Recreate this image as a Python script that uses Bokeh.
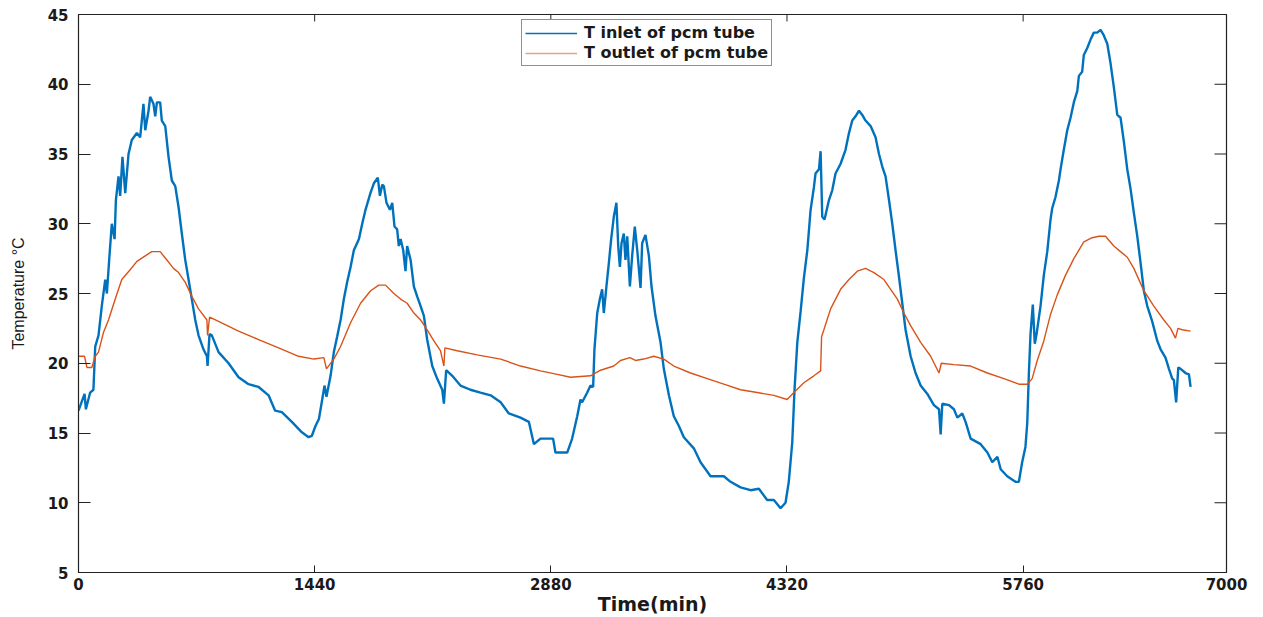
from bokeh.plotting import figure
from bokeh.models import Range1d, FixedTicker, Legend, LegendItem
from bokeh.embed import file_html
from bokeh.resources import INLINE

# ---- data ----
inlet_t = [0, 37, 45, 71, 91, 102, 122, 142, 163, 173, 187, 203, 220, 228, 244, 254, 268, 285, 305, 325,
           356, 376, 396, 407, 427, 437, 457, 468, 478, 498, 508, 529, 549, 569, 590, 610, 630, 651, 671, 691,
           712, 732, 762, 783, 787, 799, 813, 854, 915, 976, 1037, 1098, 1159, 1199, 1240, 1301, 1362, 1403, 1423, 1445,
           1466, 1486, 1500, 1512, 1537, 1557, 1577, 1598, 1618, 1638, 1659, 1679, 1710, 1730, 1750, 1780, 1801, 1825, 1838, 1852,
           1862, 1878, 1899, 1913, 1927, 1943, 1953, 1964, 1980, 1994, 2004, 2025, 2045, 2065, 2086, 2106, 2126, 2157, 2187, 2218,
           2228, 2242, 2279, 2329, 2390, 2451, 2513, 2574, 2624, 2695, 2746, 2777, 2817, 2894, 2908, 2980, 3010, 3041, 3061, 3071,
           3102, 3122, 3138, 3146, 3163, 3179, 3193, 3203, 3219, 3234, 3248, 3264, 3280, 3291, 3301, 3311, 3325, 3335, 3346, 3362,
           3376, 3392, 3407, 3427, 3437, 3457, 3478, 3494, 3518, 3549, 3569, 3600, 3630, 3661, 3691, 3752, 3793, 3854, 3935, 3976,
           4037, 4098, 4149, 4199, 4240, 4281, 4311, 4331, 4352, 4366, 4383, 4403, 4423, 4444, 4464, 4484, 4494, 4515, 4525, 4535,
           4549, 4576, 4596, 4616, 4647, 4677, 4698, 4718, 4738, 4759, 4779, 4799, 4830, 4860, 4881, 4901, 4921, 4942, 4962, 4982,
           5003, 5023, 5043, 5074, 5104, 5135, 5176, 5216, 5247, 5257, 5267, 5308, 5338, 5359, 5389, 5409, 5440, 5501, 5542, 5572,
           5603, 5623, 5663, 5713, 5734, 5754, 5774, 5785, 5795, 5805, 5819, 5831, 5842, 5866, 5886, 5907, 5927, 5937, 5957, 5978,
           5988, 6008, 6029, 6049, 6069, 6090, 6100, 6120, 6130, 6151, 6171, 6191, 6212, 6232, 6252, 6273, 6293, 6313, 6334, 6354,
           6374, 6395, 6415, 6435, 6456, 6476, 6496, 6517, 6547, 6578, 6598, 6628, 6649, 6669, 6679, 6693, 6706, 6720, 6750, 6771,
           6781]
inlet_T = [16.6, 17.8, 16.7, 17.9, 18.1, 21.2, 22.0, 24.1, 26.0, 25.0, 27.4, 30.0, 28.9, 31.7, 33.4, 32.0, 34.8, 32.2, 35.0, 36.0,
           36.5, 36.2, 38.6, 36.7, 38.1, 39.1, 38.6, 37.7, 38.7, 38.7, 37.4, 37.0, 34.8, 33.1, 32.7, 31.2, 29.3, 27.4, 26.0, 24.6,
           23.1, 22.0, 21.0, 20.5, 19.8, 22.1, 22.0, 20.8, 20.0, 19.0, 18.5, 18.3, 17.7, 16.6, 16.5, 15.8, 15.05, 14.7, 14.8, 15.5,
           16.0, 17.4, 18.4, 17.6, 19.1, 20.8, 21.9, 23.1, 24.6, 25.8, 26.9, 28.1, 28.9, 30.0, 31.0, 32.2, 32.9, 33.3, 32.0, 32.8,
           32.7, 31.5, 31.0, 31.5, 29.8, 29.6, 28.4, 28.9, 28.1, 26.6, 28.4, 27.4, 25.5, 24.8, 24.1, 23.4, 21.7, 19.8, 18.9, 18.1,
           17.1, 19.5, 19.1, 18.4, 18.1, 17.9, 17.7, 17.2, 16.4, 16.1, 15.8, 14.2, 14.6, 14.6, 13.6, 13.6, 14.6, 16.2, 17.4, 17.2,
           17.9, 18.4, 18.3, 21.0, 23.6, 24.6, 25.3, 23.6, 25.5, 27.2, 28.9, 30.5, 31.5, 28.4, 26.9, 28.6, 29.3, 27.4, 29.1, 25.5,
           27.7, 29.8, 28.1, 25.4, 28.6, 29.2, 27.7, 25.5, 23.4, 21.5, 19.6, 17.7, 16.2, 15.5, 14.7, 13.9, 12.9, 11.9, 11.9, 11.5,
           11.1, 10.9, 11.0, 10.2, 10.2, 9.6, 10.0, 11.5, 14.3, 18.1, 21.5, 23.7, 26.1, 28.1, 31.0, 32.6, 33.6, 33.9, 35.2, 30.5,
           30.3, 31.7, 32.4, 33.6, 34.3, 35.3, 36.5, 37.4, 37.7, 38.1, 37.8, 37.4, 37.0, 36.2, 35.0, 34.1, 33.4, 31.7, 30.0, 28.1,
           26.2, 24.3, 22.4, 20.5, 19.3, 18.4, 17.8, 17.0, 16.7, 14.9, 17.1, 17.0, 16.7, 16.1, 16.4, 15.8, 14.6, 14.2, 13.6, 12.9,
           13.3, 12.4, 11.9, 11.5, 11.5, 12.9, 14.0, 15.7, 19.3, 22.1, 24.2, 21.4, 22.1, 24.1, 26.3, 28.0, 30.3, 31.1, 31.9, 33.1,
           33.9, 35.3, 36.7, 37.6, 38.7, 39.5, 40.6, 40.9, 42.1, 42.6, 43.2, 43.7, 43.7, 43.9, 43.5, 42.9, 41.5, 39.8, 37.8, 37.6,
           35.9, 33.9, 32.5, 30.8, 29.1, 27.2, 25.2, 24.1, 23.0, 21.6, 21.0, 20.4, 19.6, 18.9, 18.8, 17.2, 19.7, 19.6, 19.3, 19.2,
           18.3]

outlet_t = [0, 37, 51, 81, 102, 122, 152, 183, 224, 264, 315, 356, 407, 447, 498, 539, 579, 610, 651, 691,
            732, 783, 787, 799, 854, 976, 1098, 1220, 1342, 1435, 1496, 1512, 1557, 1598, 1659, 1720, 1781, 1831, 1872, 1923,
            1964, 2004, 2045, 2086, 2126, 2167, 2207, 2228, 2234, 2309, 2431, 2574, 2695, 2817, 2919, 3000, 3122, 3183, 3264, 3305,
            3362, 3396, 3447, 3508, 3569, 3630, 3732, 3834, 3935, 4037, 4138, 4240, 4321, 4362, 4423, 4484, 4525, 4531, 4545, 4586,
            4647, 4698, 4749, 4799, 4850, 4911, 4952, 4993, 5033, 5074, 5135, 5196, 5247, 5261, 5338, 5440, 5542, 5643, 5734, 5785,
            5815, 5846, 5886, 5927, 5968, 6018, 6069, 6130, 6181, 6222, 6262, 6313, 6354, 6395, 6435, 6496, 6557, 6618, 6659, 6689,
            6704, 6730, 6781]
outlet_T = [20.5, 20.5, 19.7, 19.7, 20.5, 20.8, 22.2, 23.1, 24.6, 26.0, 26.7, 27.3, 27.7, 28.0, 28.0, 27.4, 26.8, 26.5, 25.8, 24.8,
            23.9, 23.1, 22.0, 23.3, 23.0, 22.3, 21.7, 21.1, 20.5, 20.3, 20.4, 19.6, 20.3, 21.2, 22.9, 24.3, 25.2, 25.6, 25.6, 25.0,
            24.6, 24.3, 23.6, 23.1, 22.4, 21.6, 20.9, 19.8, 21.1, 20.9, 20.6, 20.3, 19.8, 19.45, 19.2, 19.0, 19.1, 19.5, 19.8, 20.2,
            20.4, 20.2, 20.3, 20.5, 20.3, 19.8, 19.3, 18.9, 18.5, 18.1, 17.9, 17.7, 17.4, 17.9, 18.6, 19.1, 19.45, 21.9, 22.4, 23.9,
            25.3, 26.0, 26.6, 26.8, 26.5, 26.0, 25.3, 24.6, 23.6, 22.7, 21.5, 20.5, 19.3, 20.0, 19.9, 19.8, 19.3, 18.9, 18.5, 18.5,
            18.9, 20.2, 21.6, 23.5, 24.9, 26.3, 27.5, 28.7, 29.0, 29.1, 29.1, 28.4, 28.0, 27.6, 26.8, 25.2, 24.1, 23.1, 22.5, 21.8,
            22.5, 22.4, 22.3]

x_ticks = [0, 1440, 2880, 4320, 5760, 7000]
y_ticks = [5, 10, 15, 20, 25, 30, 35, 40, 45]
series_names = ["T inlet of pcm tube", "T outlet of pcm tube"]

X_MIN, X_MAX = 0, 7000
Y_MIN, Y_MAX = 5, 45

BLUE = "#0072BD"
ORANGE = "#D95319"
TXT = "#1a1a1a"
AX = "#222222"
TICK_FONT = "DejaVu Sans"

W, H = 1263, 617
BL, BR, BT, BB = 78, 37, 14, 43
FW, FH = W - BL - BR, H - BT - BB

p = figure(width=W, height=H, output_backend="svg", toolbar_location=None,
           x_range=Range1d(X_MIN, X_MAX), y_range=Range1d(Y_MIN, Y_MAX),
           min_border_left=BL, min_border_right=BR, min_border_top=BT, min_border_bottom=BB,
           background_fill_color="white", border_fill_color="white")
p.grid.visible = False
p.outline_line_color = AX
p.outline_line_width = 1.2

r1 = p.line(inlet_t, inlet_T, line_color=BLUE, line_width=2.4)
r2 = p.line(outlet_t, outlet_T, line_color=ORANGE, line_width=1.4)

# mirrored ticks on top and right (box style), from the tick lists
xtick_len = 7 * (Y_MAX - Y_MIN) / FH
ytick_len = 12 * (X_MAX - X_MIN) / FW
p.segment(x0=x_ticks, x1=x_ticks, y0=[Y_MAX] * len(x_ticks), y1=[Y_MAX - xtick_len] * len(x_ticks),
          line_color=AX, line_width=1)
p.segment(x0=[X_MAX] * len(y_ticks), x1=[X_MAX - ytick_len] * len(y_ticks), y0=y_ticks, y1=y_ticks,
          line_color=AX, line_width=1)

# axes
xa = p.xaxis[0]
xa.ticker = FixedTicker(ticks=x_ticks)
xa.major_tick_in = 7
xa.major_tick_out = 0
xa.minor_tick_line_color = None
xa.axis_line_color = AX
xa.major_tick_line_color = AX
xa.major_label_text_font = TICK_FONT
xa.major_label_text_font_style = "bold"
xa.major_label_text_font_size = "15px"
xa.major_label_text_color = TXT
xa.major_label_standoff = 5
xa.axis_label = "Time(min)"
xa.axis_label_text_font = TICK_FONT
xa.axis_label_text_font_style = "bold"
xa.axis_label_text_font_size = "19px"
xa.axis_label_text_color = TXT
xa.axis_label_standoff = 0

ya = p.yaxis[0]
ya.ticker = FixedTicker(ticks=y_ticks)
ya.major_tick_in = 12
ya.major_tick_out = 0
ya.minor_tick_line_color = None
ya.axis_line_color = AX
ya.major_tick_line_color = AX
ya.major_label_text_font = TICK_FONT
ya.major_label_text_font_style = "bold"
ya.major_label_text_font_size = "15px"
ya.major_label_text_color = TXT
ya.major_label_standoff = 10
ya.axis_label = "Temperature °C"
ya.axis_label_text_font = "Liberation Sans"
ya.axis_label_text_font_style = "normal"
ya.axis_label_text_font_size = "16px"
ya.axis_label_text_color = TXT
ya.axis_label_standoff = 18

# legend proxies (thin sample lines), kept outside the visible range
d1 = p.line([X_MIN - 100, X_MIN - 50], [Y_MIN - 10, Y_MIN - 10], line_color=BLUE, line_width=1.5)
d2 = p.line([X_MIN - 100, X_MIN - 50], [Y_MIN - 10, Y_MIN - 10], line_color=ORANGE, line_width=1.5, line_alpha=0.55)
legend = Legend(items=[LegendItem(label=series_names[0], renderers=[d1]),
                       LegendItem(label=series_names[1], renderers=[d2])],
                location=(443, 506), orientation="vertical",
                label_text_font=TICK_FONT, label_text_font_style="bold",
                label_text_font_size="16px", label_text_color=TXT,
                glyph_width=52, glyph_height=14, label_height=14, label_standoff=7,
                spacing=1, padding=3, margin=0,
                border_line_color=AX, border_line_width=1,
                background_fill_color="white", background_fill_alpha=1.0)
p.add_layout(legend, "center")

open("out.html", "w").write(file_html(p, INLINE))
